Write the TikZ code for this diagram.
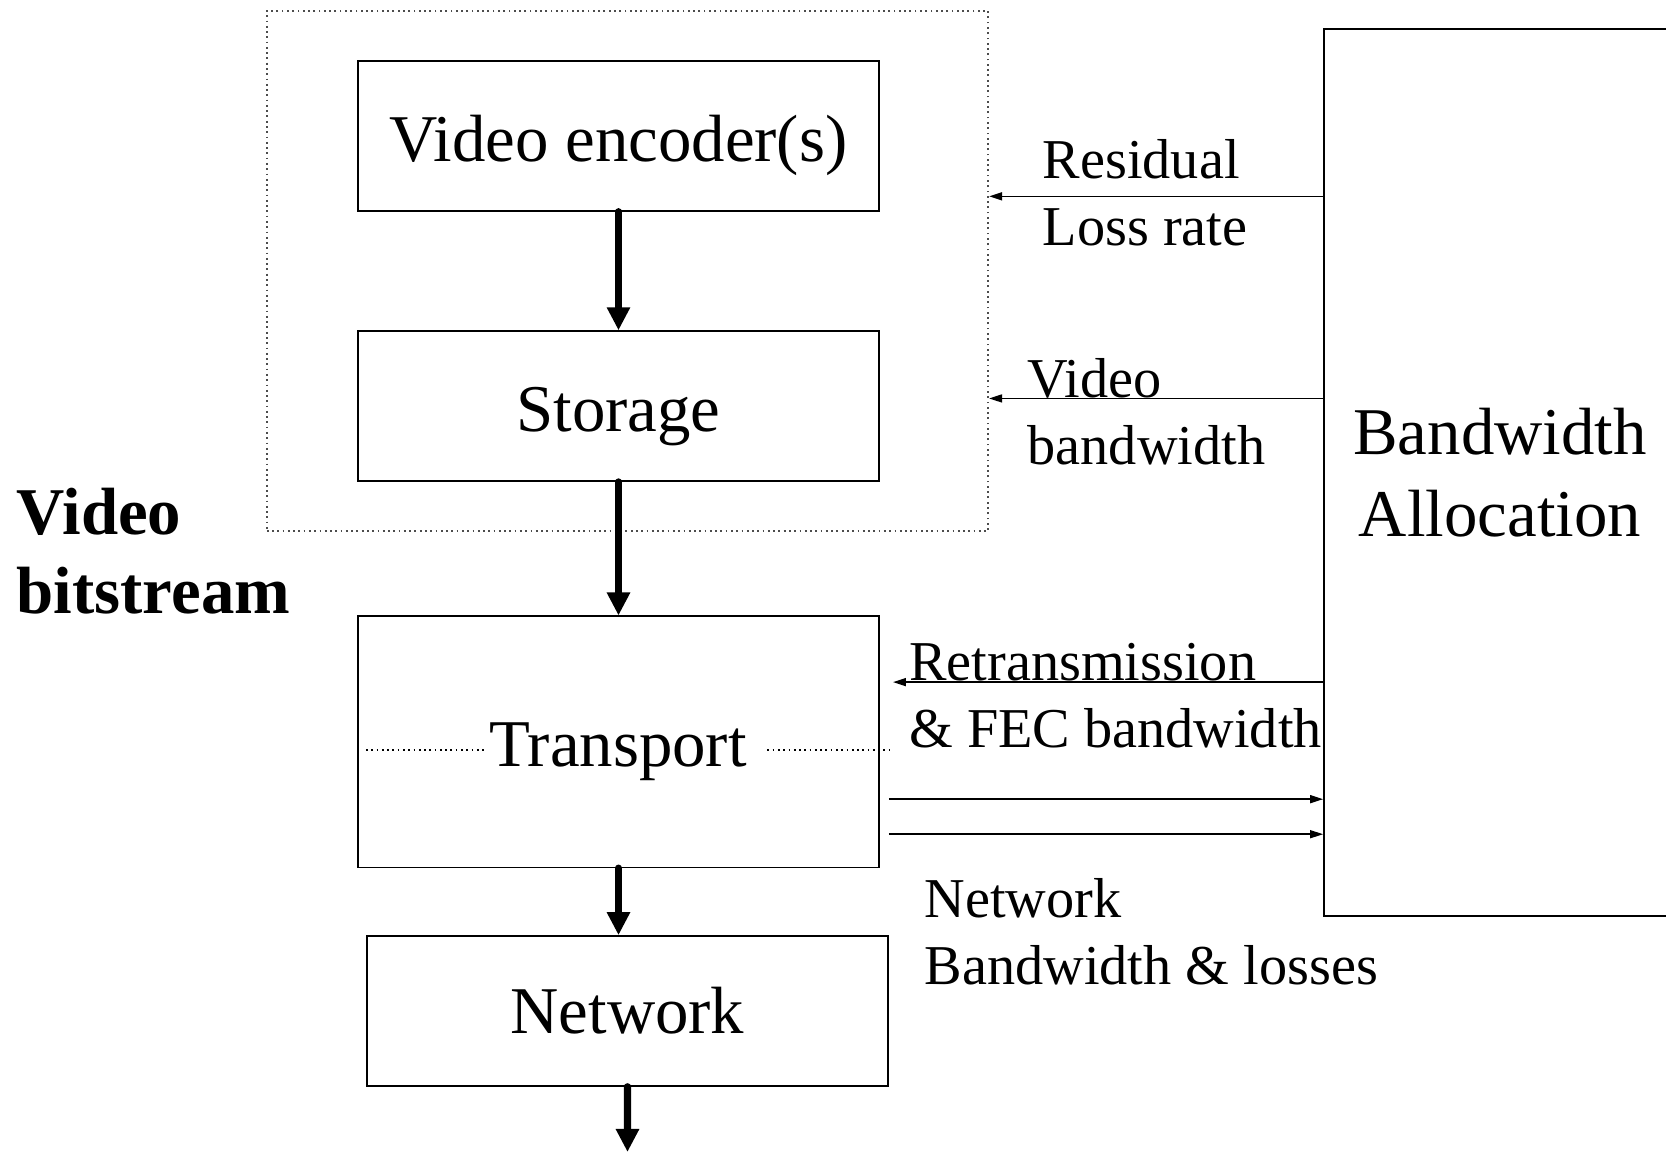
\documentclass[tikz,border=0pt]{standalone}
\usepackage{fontspec}
\setmainfont{Liberation Serif}
\usetikzlibrary{arrows.meta}
\tikzstyle{block} = [rectangle, minimum width=5.21cm, minimum height=1.5cm, text centered, draw=black, line width=0.45pt, inner sep=0pt, font=\fontsize{19}{23}\selectfont]
\tikzstyle{note} = [anchor=north west, align=left, inner sep=0pt, font=\fontsize{16}{18.9}\selectfont]
\tikzstyle{thickarrow} = [line width=2.1pt, line cap=round, -{Triangle[length=0.23cm, width=0.22cm]}]
\tikzstyle{thinarrow} = [line width=0.45pt, -{Triangle[length=0.13cm, width=0.08cm]}]

\begin{document}
\begin{tikzpicture}[x=0.01cm, y=-0.01cm, node distance=2cm]
    \useasboundingbox (0,0) rectangle (1666,1152);
    % source side
    \node (src) [rectangle, draw=black!70, densely dotted, line width=0.5pt, minimum width=7.21cm, minimum height=5.2cm] at (627.5,271) {};
    \node (enc) [block, text height=18.5pt, text depth=4pt] at (618.5,136) {Video encoder(s)};
    \node (stor) [block, text height=18.5pt, text depth=4pt, below of=enc, yshift=-0.7cm] {Storage};
    \node (trans) [block, below of=stor, yshift=-1.355cm, minimum height=2.51cm] {};
    \node (translabel) [anchor=base, inner sep=0pt, font=\fontsize{19}{23}\selectfont] at (618,767) {Transport};
    \node (net) [block, below of=trans, yshift=-0.69cm, xshift=0.09cm] {Network};
    \coordinate (out) at (627.5,1152);
    \node (bitstream) [note, font=\bfseries\fontsize{19}{22.5}\selectfont] at (16,487) {Video\\bitstream};

    % allocator, open to the right
    \node (bal) [block, align=center, minimum width=3.52cm, minimum height=8.87cm, font=\fontsize{19}{23.3}\selectfont] at (1500,472.5) {Bandwidth\\Allocation};

    % labels
    \node (residual) [note] at (1042,139) {Residual\\Loss rate};
    \node (videobw) [note] at (1027,358) {Video\\bandwidth};
    \node (retrans) [note] at (908.5,643) {Retransmission\\\& FEC bandwidth};
    \node (netbw) [note] at (924,878) {Network\\Bandwidth \& losses};

    % main chain
    \draw [thickarrow] (enc) -- (stor);
    \draw [thickarrow] (stor) -- (trans);
    \draw [thickarrow] (trans.south) -- (trans.south |- net.north);
    \draw [thickarrow] (net) -- (out);

    % dotted line through transport
    \coordinate (dl) at (0,750);
    \draw [densely dotted, line width=0.5pt] ([xshift=0.09cm]trans.west |- dl) -- ([xshift=-0.05cm]translabel.west |- dl);
    \draw [densely dotted, line width=0.5pt] ([xshift=0.2cm]translabel.east |- dl) -- ([xshift=0.09cm]trans.east |- dl);

    % feedback from allocator
    \draw [thinarrow] ([yshift=2.76cm]bal.west) -- ([yshift=2.76cm]bal.west -| src.east);
    \draw [thinarrow] ([yshift=0.74cm]bal.west) -- ([yshift=0.74cm]bal.west -| src.east);
    \draw [thinarrow, shorten >=0.13cm] ([yshift=-2.095cm]bal.west) -- ([yshift=-2.095cm]bal.west -| trans.east);
    \draw [thinarrow, shorten <=0.09cm] ([yshift=-3.265cm]bal.west -| trans.east) -- ([yshift=-3.265cm]bal.west);
    \draw [thinarrow, shorten <=0.09cm] ([yshift=-3.615cm]bal.west -| trans.east) -- ([yshift=-3.615cm]bal.west);
\end{tikzpicture}
\end{document}
